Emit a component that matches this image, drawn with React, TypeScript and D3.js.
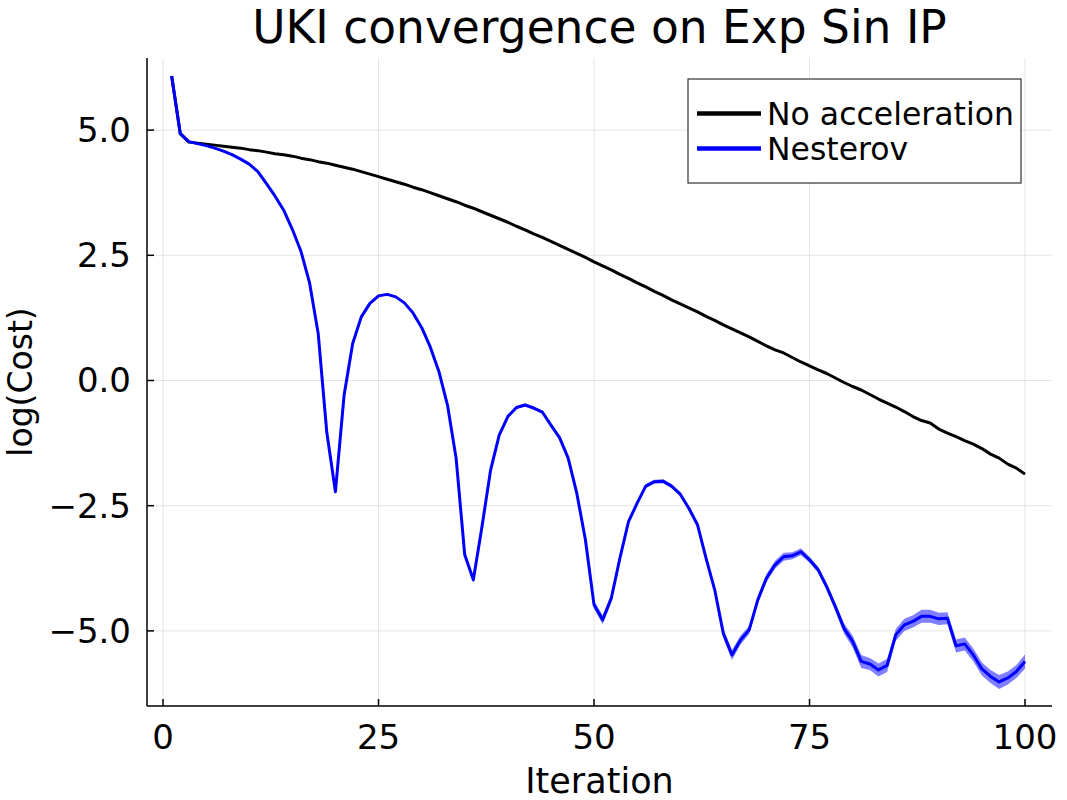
import { useEffect, useRef } from 'react';
import * as d3 from 'd3';

const iterations: number[] = Array.from({ length: 100 }, (_, i) => i + 1);

// log(Cost) without acceleration
const noAccel: number[] = [
  6.08, 4.93, 4.76, 4.74, 4.72, 4.70, 4.68, 4.66, 4.64, 4.61,
  4.59, 4.56, 4.53, 4.51, 4.48, 4.44, 4.41, 4.37, 4.34, 4.30,
  4.26, 4.22, 4.17, 4.12, 4.07, 4.02, 3.97, 3.92, 3.86, 3.81,
  3.75, 3.69, 3.63, 3.57, 3.50, 3.44, 3.37, 3.30, 3.23, 3.16,
  3.08, 3.01, 2.93, 2.86, 2.78, 2.70, 2.62, 2.54, 2.46, 2.37,
  2.29, 2.21, 2.12, 2.04, 1.95, 1.87, 1.78, 1.70, 1.61, 1.53,
  1.45, 1.37, 1.28, 1.20, 1.11, 1.03, 0.95, 0.87, 0.78, 0.69,
  0.61, 0.55, 0.46, 0.37, 0.29, 0.21, 0.14, 0.05, -0.04, -0.12,
  -0.19, -0.28, -0.37, -0.45, -0.53, -0.62, -0.72, -0.80, -0.85, -0.97,
  -1.05, -1.12, -1.20, -1.27, -1.36, -1.47, -1.55, -1.67, -1.75, -1.87,
];

// log(Cost) with Nesterov acceleration (mean)
const nesterov: number[] = [
  6.08, 4.93, 4.77, 4.73, 4.69, 4.64, 4.58, 4.51, 4.42, 4.32,
  4.17, 3.93, 3.68, 3.40, 3.02, 2.58, 1.95, 0.94, -1.04, -2.22,
  -0.30, 0.74, 1.27, 1.54, 1.69, 1.72, 1.67, 1.55, 1.35, 1.06,
  0.67, 0.18, -0.49, -1.55, -3.48, -3.98, -2.92, -1.79, -1.09, -0.72,
  -0.54, -0.49, -0.55, -0.63, -0.89, -1.14, -1.55, -2.25, -3.18, -4.48,
  -4.78, -4.35, -3.55, -2.82, -2.45, -2.11, -2.02, -2.01, -2.11, -2.27,
  -2.55, -2.88, -3.55, -4.18, -5.05, -5.48, -5.18, -4.98, -4.38, -3.95,
  -3.68, -3.52, -3.50, -3.42, -3.58, -3.78, -4.12, -4.52, -4.95, -5.21,
  -5.61, -5.66, -5.78, -5.69, -5.08, -4.88, -4.81, -4.71, -4.71, -4.76,
  -4.75, -5.30, -5.26, -5.48, -5.76, -5.91, -6.02, -5.94, -5.81, -5.61,
];

// half-width of the shaded band around the Nesterov curve
const nesterovSpread: number[] = [
  0.01, 0.01, 0.01, 0.01, 0.01, 0.01, 0.01, 0.01, 0.01, 0.01,
  0.01, 0.01, 0.01, 0.01, 0.01, 0.01, 0.01, 0.02, 0.02, 0.03,
  0.02, 0.02, 0.02, 0.02, 0.02, 0.02, 0.02, 0.02, 0.02, 0.02,
  0.02, 0.03, 0.03, 0.03, 0.06, 0.07, 0.05, 0.03, 0.03, 0.03,
  0.03, 0.03, 0.03, 0.03, 0.03, 0.03, 0.03, 0.04, 0.05, 0.08,
  0.09, 0.08, 0.05, 0.04, 0.04, 0.04, 0.04, 0.04, 0.04, 0.04,
  0.04, 0.05, 0.06, 0.07, 0.09, 0.10, 0.09, 0.08, 0.08, 0.08,
  0.08, 0.08, 0.07, 0.07, 0.06, 0.06, 0.07, 0.08, 0.10, 0.12,
  0.13, 0.12, 0.13, 0.13, 0.12, 0.12, 0.12, 0.13, 0.13, 0.12,
  0.12, 0.13, 0.13, 0.13, 0.13, 0.13, 0.14, 0.13, 0.13, 0.14,
];

const xTicks = [0, 25, 50, 75, 100];
const yTicks = [-5, -2.5, 0, 2.5, 5];
const seriesNames = ['No acceleration', 'Nesterov'];
const seriesColors = ['#000000', '#0000ff'];

const W = 1067;
const H = 800;
const FONT = '"DejaVu Sans", sans-serif';

export default function App() {
  const svgRef = useRef<SVGSVGElement>(null);

  useEffect(() => {
    if (!svgRef.current) return;
    const svg = d3.select(svgRef.current);
    svg.selectAll('*').remove();

    const left = 147, right = 1052, top = 58, bottom = 706;
    const x = d3.scaleLinear().domain([-1.86, 103.13]).range([left, right]);
    const y = d3.scaleLinear().domain([-6.5, 6.44]).range([bottom, top]);

    svg.append('rect').attr('width', W).attr('height', H).attr('fill', 'white');

    // grid
    const grid = svg.append('g').attr('stroke', 'rgba(0,0,0,0.1)').attr('stroke-width', 1);
    xTicks.forEach(t => {
      grid.append('line').attr('x1', x(t)).attr('x2', x(t)).attr('y1', top).attr('y2', bottom);
    });
    yTicks.forEach(t => {
      grid.append('line').attr('x1', left).attr('x2', right).attr('y1', y(t)).attr('y2', y(t));
    });

    // band for Nesterov
    const bandData = iterations.map((it, i) => ({ it, lo: nesterov[i] - nesterovSpread[i], hi: nesterov[i] + nesterovSpread[i] }));
    const area = d3.area<{ it: number; lo: number; hi: number }>()
      .x(d => x(d.it))
      .y0(d => y(d.lo))
      .y1(d => y(d.hi));
    svg.append('path')
      .datum(bandData)
      .attr('d', area)
      .attr('fill', '#0000ff')
      .attr('fill-opacity', 0.5)
      .attr('stroke', 'none');

    const line = d3.line<number>()
      .x((_, i) => x(iterations[i]))
      .y(d => y(d));

    [noAccel, nesterov].forEach((series, k) => {
      svg.append('path')
        .datum(series)
        .attr('d', line)
        .attr('fill', 'none')
        .attr('stroke', seriesColors[k])
        .attr('stroke-width', 3)
        .attr('stroke-linejoin', 'round');
    });

    // axes spines
    svg.append('line').attr('x1', left).attr('x2', left).attr('y1', top).attr('y2', bottom)
      .attr('stroke', 'black').attr('stroke-width', 1.5);
    svg.append('line').attr('x1', left).attr('x2', right).attr('y1', bottom).attr('y2', bottom)
      .attr('stroke', 'black').attr('stroke-width', 1.5);

    // ticks + labels
    xTicks.forEach(t => {
      svg.append('line').attr('x1', x(t)).attr('x2', x(t)).attr('y1', bottom).attr('y2', bottom - 7)
        .attr('stroke', 'black').attr('stroke-width', 1.5);
      svg.append('text')
        .attr('x', x(t)).attr('y', 749)
        .attr('text-anchor', 'middle')
        .style('font-family', FONT).style('font-size', '34px')
        .text(String(t));
    });
    yTicks.forEach(t => {
      svg.append('line').attr('x1', left).attr('x2', left + 7).attr('y1', y(t)).attr('y2', y(t))
        .attr('stroke', 'black').attr('stroke-width', 1.5);
      svg.append('text')
        .attr('x', 131).attr('y', y(t))
        .attr('text-anchor', 'end')
        .attr('dominant-baseline', 'central')
        .style('font-family', FONT).style('font-size', '34px')
        .text(t.toFixed(1).replace('-', '\u2212'));
    });

    // axis titles
    svg.append('text')
      .attr('x', (left + right) / 2).attr('y', 793)
      .attr('text-anchor', 'middle')
      .style('font-family', FONT).style('font-size', '35px')
      .text('Iteration');
    svg.append('text')
      .attr('transform', `translate(32,${(top + bottom) / 2}) rotate(-90)`)
      .attr('text-anchor', 'middle')
      .style('font-family', FONT).style('font-size', '33px')
      .text('log(Cost)');

    // title
    svg.append('text')
      .attr('x', (left + right) / 2).attr('y', 43)
      .attr('text-anchor', 'middle')
      .style('font-family', FONT).style('font-size', '45.5px')
      .text('UKI convergence on Exp Sin IP');

    // legend
    const lg = svg.append('g');
    lg.append('rect')
      .attr('x', 688).attr('y', 79).attr('width', 333).attr('height', 104)
      .attr('fill', 'white').attr('stroke', '#333').attr('stroke-width', 1.2);
    seriesNames.forEach((name, k) => {
      const ly = 113.5 + k * 35;
      lg.append('line').attr('x1', 697).attr('x2', 761).attr('y1', ly).attr('y2', ly)
        .attr('stroke', seriesColors[k]).attr('stroke-width', 4.5);
      lg.append('text')
        .attr('x', 767).attr('y', ly)
        .attr('dominant-baseline', 'central')
        .style('font-family', FONT).style('font-size', '31.5px')
        .text(name);
    });
  }, []);

  return (
    <svg
      ref={svgRef}
      width={W}
      height={H}
      style={{ display: 'block', position: 'absolute', left: 0, top: 0 }}
    />
  );
}
